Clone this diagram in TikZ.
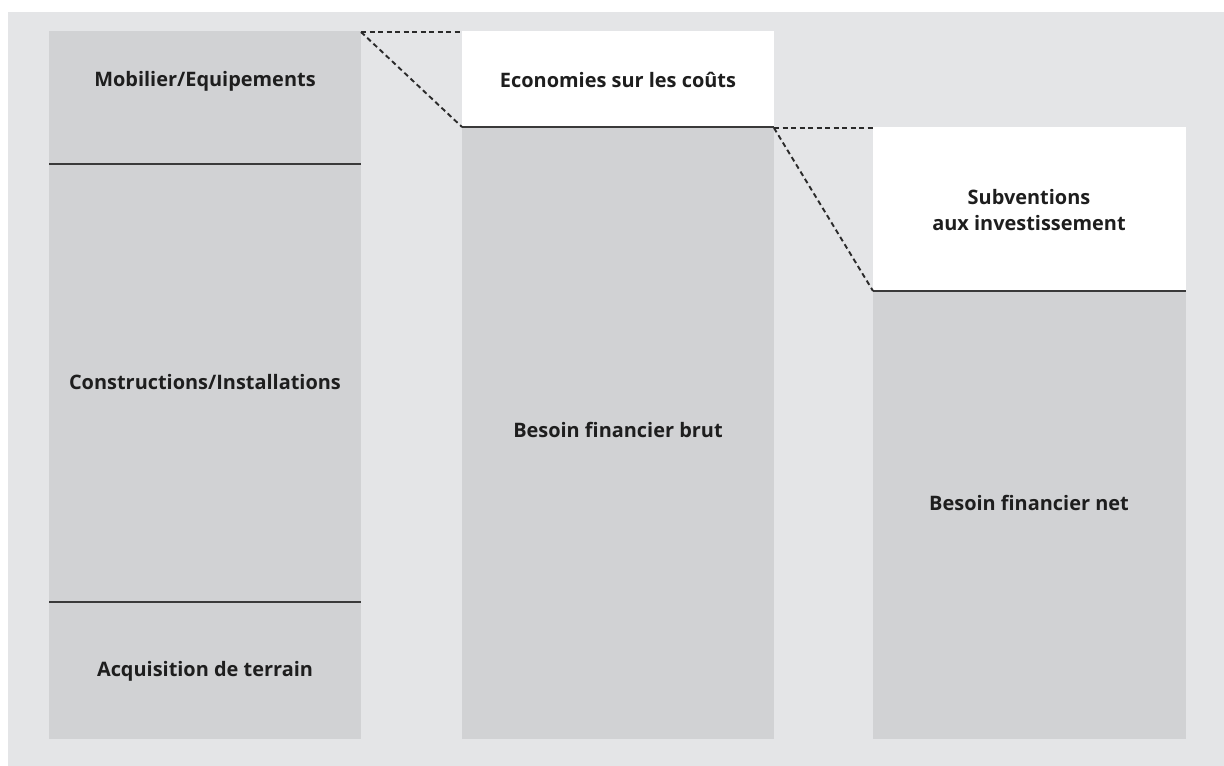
\documentclass[tikz,border=0pt]{standalone}
\usepackage{fontspec}
\setmainfont{Open Sans}
\begin{document}
\begin{tikzpicture}[x=1bp,y=-1bp,
  panel/.style={fill=bgGray,draw=none},
  barfill/.style={fill=barGray,draw=none},
  whitebox/.style={fill=white,draw=none},
  divider/.style={draw=lineGray,line width=1.2bp},
  guide/.style={draw=dashGray,line width=1.9bp,dash pattern=on 5bp off 3.5bp},
  label/.style={font=\fontsize{20}{26}\selectfont\bfseries,text=textGray,align=center}]
\definecolor{bgGray}{HTML}{E4E5E7}
\definecolor{barGray}{HTML}{D1D2D4}
\definecolor{lineGray}{HTML}{3A3A3A}
\definecolor{dashGray}{HTML}{2A2A2A}
\definecolor{textGray}{HTML}{1E1E1E}
\useasboundingbox (0,0) rectangle (1224,766);
\fill[panel] (8,12) rectangle (1224,766);
% first column: cost breakdown
\fill[barfill] (49,31) rectangle (361,739);
\draw[divider] (49,164) -- (361,164);
\draw[divider] (49,602) -- (361,602);
% second column: savings and gross need
\fill[whitebox] (462,31) rectangle (774,127);
\fill[barfill] (462,127) rectangle (774,739);
\draw[divider] (462,127) -- (774,127);
% third column: subsidies and net need
\fill[whitebox] (873,127) rectangle (1186,291);
\fill[barfill] (873,291) rectangle (1186,739);
\draw[divider] (873,291) -- (1186,291);
% labels
\node[label] (mob) at (205,81) {Mobilier/Equipements};
\node[label] (cons) at (205,382) {Constructions/Installations};
\node[label] (acq) at (205,671) {Acquisition de terrain};
\node[label] (eco) at (618,80) {Economies sur les coûts};
\node[label] (brut) at (618,430) {Besoin financier brut};
\node[label] (sub) at (1029,210) {Subventions\\aux investissement};
\node[label] (net) at (1029,503) {Besoin financier net};
% dashed guide lines between columns
\coordinate (a1) at (361,32);
\coordinate (a2) at (462,32);
\coordinate (a3) at (462,127);
\coordinate (b1) at (774,128);
\coordinate (b2) at (873,128);
\coordinate (b3) at (873,291);
\draw[guide] (a1) -- (a2);
\draw[guide] (a1) -- (a3);
\draw[guide] (b1) -- (b2);
\draw[guide] (b1) -- (b3);
\end{tikzpicture}
\end{document}
